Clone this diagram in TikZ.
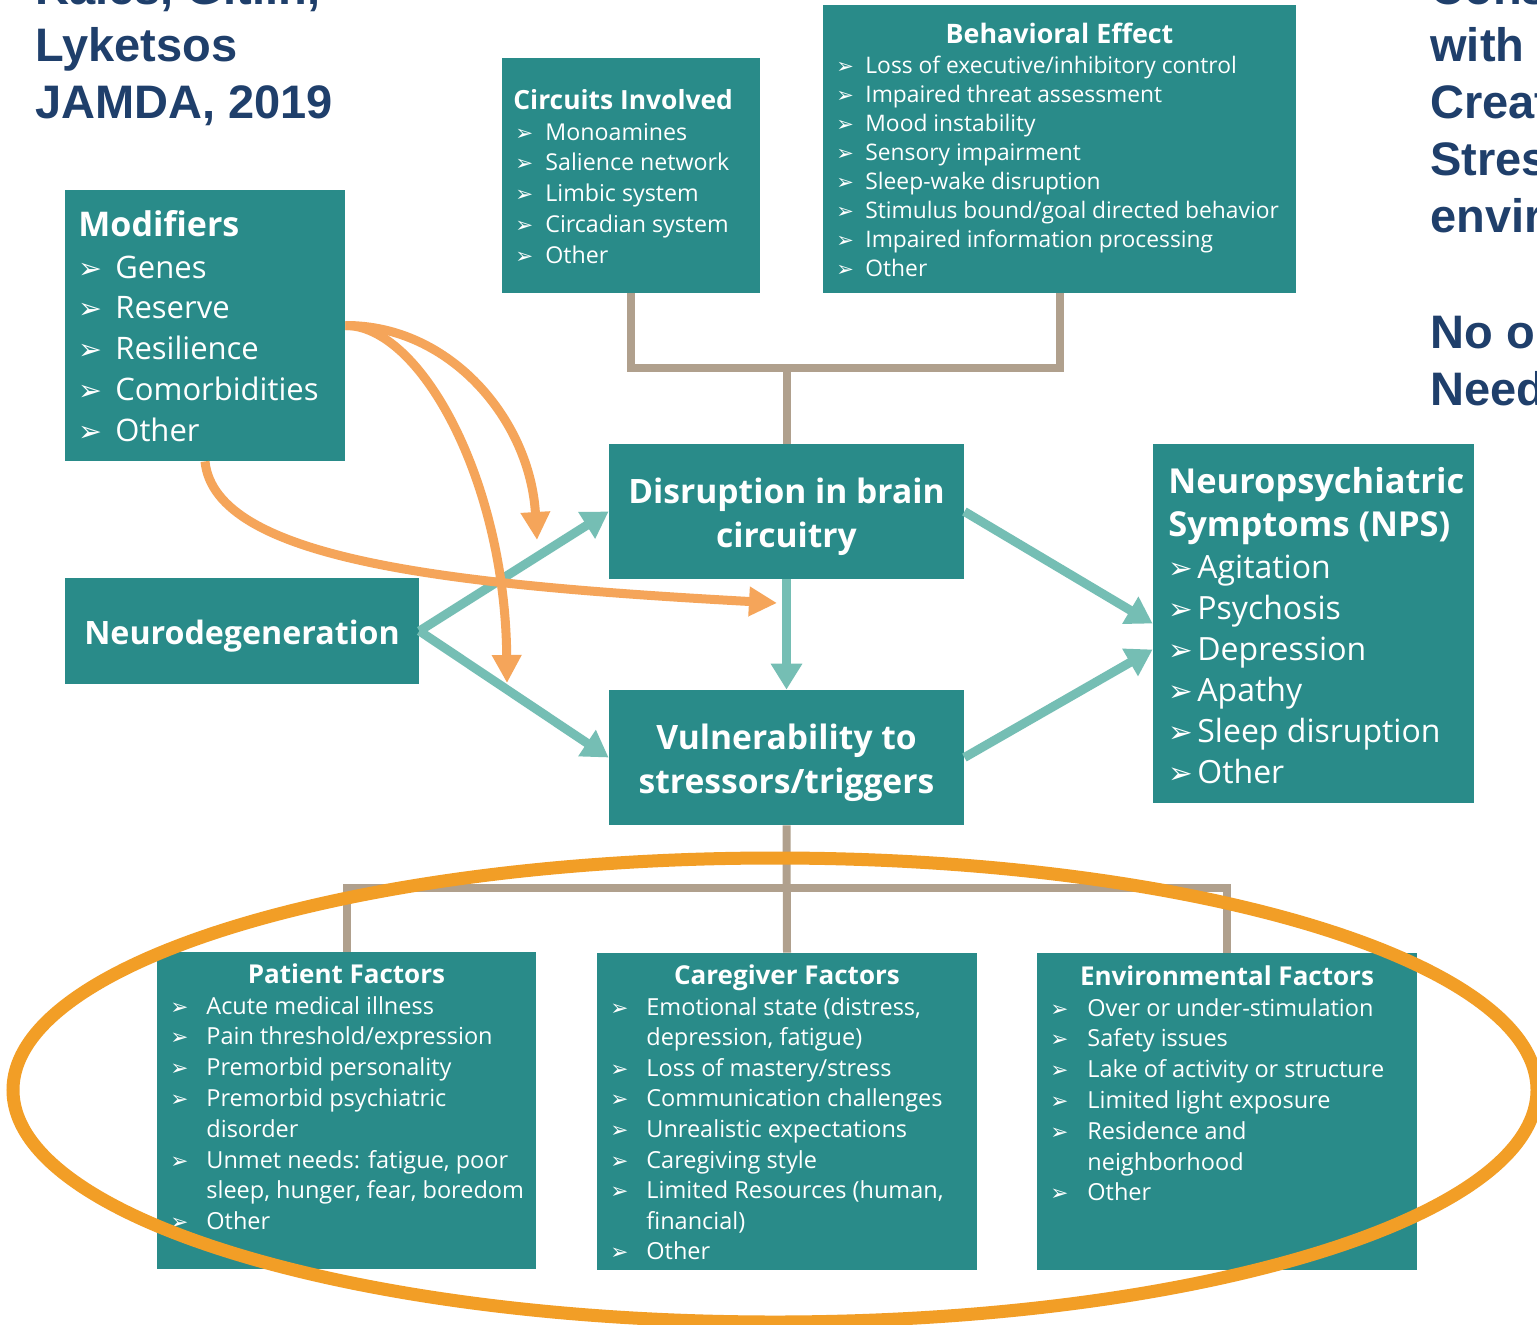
\documentclass[tikz,border=0pt]{standalone}
\usepackage{fontspec}
\setsansfont{Open Sans}
\newfontfamily\titlefont{Liberation Sans}
\newfontfamily\dingfont[Scale=0.92]{DejaVu Sans}
\usetikzlibrary{arrows.meta,fit}

\definecolor{boxteal}{RGB}{41,139,137}
\definecolor{arrteal}{RGB}{117,190,180}
\definecolor{linktan}{RGB}{176,160,141}
\definecolor{modorange}{RGB}{245,165,90}
\definecolor{ringorange}{RGB}{242,158,38}
\definecolor{titleblue}{RGB}{31,63,107}

\newlength\bgap
\newcommand\bl{\llap{\makebox[\bgap][l]{\dingfont ➢}}}
\newcommand\fs[1]{\fontsize{#1}{#1}\selectfont}

\tikzset{
  box/.style={fill=boxteal,draw=none,inner sep=0pt},
  hdr/.style={text=white,inner sep=0pt,anchor=base,font=\sffamily\bfseries\fs{#1}},
  lhdr/.style={hdr=#1,anchor=base west},
  itm/.style 2 args={text=white,inner sep=0pt,anchor=base west,font=\sffamily\fs{#1}\setlength\bgap{#2}},
  big/.style={text=white,inner sep=0pt,align=center,yshift=-2.5pt,font=\sffamily\bfseries\fontsize{#1}{22}\selectfont},
  title/.style={text=titleblue,inner sep=0pt,anchor=base west,font=\titlefont\bfseries\fs{23.5}},
  link/.style={draw=linktan,line width=4pt},
  tarrow/.style={draw=arrteal,line width=4.5pt,-{Triangle[width=15pt,length=13pt]}},
  marrow/.style={draw=modorange,line width=4.5pt,-{Triangle[width=14pt,length=14pt]}},
  ring/.style={draw=ringorange,line width=6.5pt}
}

\begin{document}
\begin{tikzpicture}[x=0.5pt,y=-0.5pt]
\fill[white] (0,0) rectangle (1537,1324);
\useasboundingbox (0,0) rectangle (1537,1324);

% side notes
\foreach \t [count=\i from 0] in {{Kales, Gitlin,},Lyketsos,{JAMDA, 2019}}
  \node[title] (ref-\i) at (35,{4+57*\i}) {\t};
\foreach \t/\y in {Cons/4,with/61,Creat/118,Stres/175,envir/232,No o/348,Need/405}
  \node[title] (note-\y) at (1430,\y) {\t};

% boxes
\node[box,fit={(65,190)(345,461)}] (mod) {};
\node[box,fit={(502,58)(760,293)}] (circ) {};
\node[box,fit={(823,5)(1296,293)}] (beh) {};
\node[box,fit={(609,444)(964,579)}] (dis) {};
\node[box,fit={(65,578)(419,684)}] (neu) {};
\node[box,fit={(609,690)(964,825)}] (vul) {};
\node[box,fit={(1153,444)(1474,803)}] (nps) {};
\node[box,fit={(157,952)(536,1269)}] (pat) {};
\node[box,fit={(597,953)(977,1270)}] (car) {};
\node[box,fit={(1037,953)(1417,1270)}] (env) {};

% modifiers
\node[lhdr=17] (mod-h) at (78,236) {Modifiers};
\foreach \t [count=\i from 0] in {Genes,Reserve,Resilience,Comorbidities,Other}
  \node[itm={15.5}{18.5pt}] (mod-\i) at (115,{278+40.75*\i}) {\bl\t};

% circuits
\node[lhdr=13.2] (circ-h) at (513,109) {Circuits Involved};
\foreach \t [count=\i from 0] in {Monoamines,Salience network,Limbic system,Circadian system,Other}
  \node[itm={11.6}{15pt}] (circ-\i) at (545,{140+30.8*\i}) {\bl\t};

% behavioral effect
\node[hdr=13.4] (beh-h) at (1059.5,43) {Behavioral Effect};
\foreach \t [count=\i from 0] in {Loss of executive/inhibitory control,Impaired threat assessment,Mood instability,Sensory impairment,Sleep-wake disruption,Stimulus bound/goal directed behavior,Impaired information processing,Other}
  \node[itm={11.4}{14.5pt}] (beh-\i) at (865,{73+29.1*\i}) {\bl\t};

% middle column
\node[big=16.8] (dis-t) at (dis.center) {Disruption in brain\\circuitry};
\node[big=16.8] (vul-t) at (vul.center) {Vulnerability to\\stressors/triggers};
\node[big=16.1] (neu-t) at (neu.center) {Neurodegeneration};

% nps
\node[lhdr=17.2] (nps-h1) at (1168,493) {Neuropsychiatric};
\node[lhdr=17.2] (nps-h2) at (1168,536) {Symptoms (NPS)};
\foreach \t [count=\i from 0] in {Agitation,Psychosis,Depression,Apathy,Sleep disruption,Other}
  \node[itm={16}{14.5pt}] (nps-\i) at (1197,{578+41*\i}) {\bl\t};

% factors
\node[hdr=13] (pat-h) at (346.5,983) {Patient Factors};
\foreach \t [count=\i from 0] in {{\bl Acute medical illness},{\bl Pain threshold/expression},{\bl Premorbid personality},{\bl Premorbid psychiatric},{disorder},{\bl Unmet needs: fatigue, poor},{sleep, hunger, fear, boredom},{\bl Other}}
  \node[itm={11.75}{18pt}] (pat-\i) at (206,{1014+30.8*\i}) {\t};

\node[hdr=13] (car-h) at (787,984) {Caregiver Factors};
\foreach \t [count=\i from 0] in {{\bl Emotional state (distress,},{depression, fatigue)},{\bl Loss of mastery/stress},{\bl Communication challenges},{\bl Unrealistic expectations},{\bl Caregiving style},{\bl Limited Resources (human,},{financial)},{\bl Other}}
  \node[itm={11.75}{18pt}] (car-\i) at (646,{1015+30.6*\i}) {\t};

\node[hdr=13] (env-h) at (1227,985) {Environmental Factors};
\foreach \t [count=\i from 0] in {{\bl Over or under-stimulation},{\bl Safety issues},{\bl Lake of activity or structure},{\bl Limited light exposure},{\bl Residence and},{neighborhood},{\bl Other}}
  \node[itm={11.75}{18.5pt}] (env-\i) at (1087,{1016+30.8*\i}) {\t};

% tan links
\coordinate (hub) at (786.5,368);
\coordinate (hub2) at (786.5,888);
\draw[link] (circ.south) |- (hub) -| (beh.south);
\draw[link] (hub) -- (dis.north);
\draw[link] (vul.south) -- (car.north);
\draw[link] (pat.north) |- (hub2) -| (env.north);

% teal arrows
\draw[tarrow] (neu.east) -- (dis.west);
\draw[tarrow] (neu.east) -- (vul.west);
\draw[tarrow] (dis.south) -- (vul.north);
\draw[tarrow] (dis.east) -- (nps.west);
\draw[tarrow] (vul.east) -- ([yshift=-13pt]nps.west);

% modifier arrows
\coordinate (modA) at (537,540);
\coordinate (modB) at (507,683);
\coordinate (modC) at (777,603);
\draw[marrow] (mod.east) .. controls (450,325) and (530,420) .. (modA);
\draw[marrow] (mod.east) .. controls (420,325) and (505,480) .. (modB);
\draw[marrow] (mod.south) .. controls (215,560) and (450,585) .. (modC);

% ring round the factors
\draw[ring] (775,1090) ellipse [x radius=381pt,y radius=116pt];
\end{tikzpicture}
\end{document}
